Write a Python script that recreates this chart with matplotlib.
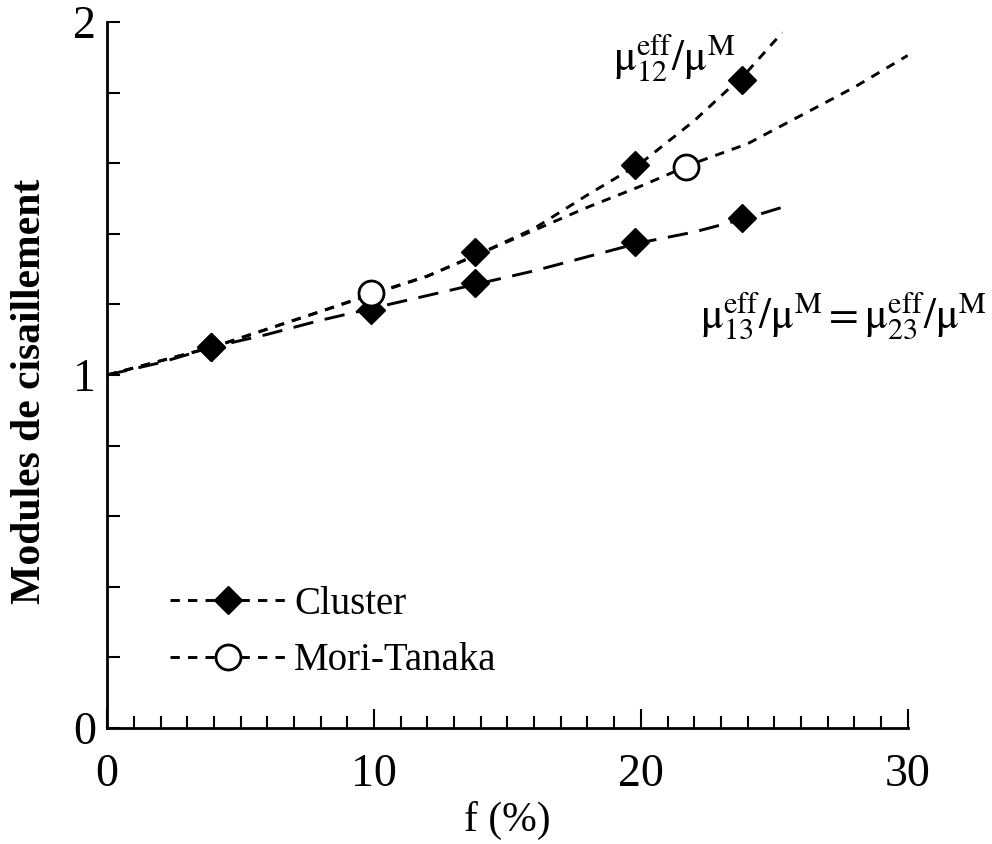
from matplotlib import pyplot as plt
from matplotlib.ticker import MultipleLocator
from matplotlib.lines import Line2D

plt.rcParams['font.family'] = ['Liberation Serif', 'DejaVu Serif']
plt.rcParams['mathtext.fontset'] = 'stix'

# curves
x_c12 = [0, 2, 4, 6, 8, 10, 12, 14, 16, 18, 20, 22, 24, 25.3]
y_c12 = [1.0, 1.04, 1.08, 1.13, 1.18, 1.23, 1.28, 1.345, 1.415, 1.51,
         1.60, 1.72, 1.86, 1.97]

x_mt = [0, 2, 4, 6, 8, 10, 12, 14, 16, 18, 20, 22, 24, 26, 28, 30]
y_mt = [1.0, 1.04, 1.08, 1.13, 1.18, 1.232, 1.28, 1.345, 1.41, 1.475,
        1.535, 1.60, 1.655, 1.735, 1.815, 1.905]

x_c13 = [0, 2, 4, 6, 8, 10, 12, 14, 16, 18, 20, 22, 24, 25.3]
y_c13 = [1.0, 1.035, 1.08, 1.115, 1.155, 1.19, 1.225, 1.26, 1.295, 1.335,
         1.375, 1.405, 1.445, 1.475]

# markers
pts_c12_x = [3.9, 13.8, 19.8, 23.8]
pts_c12_y = [1.08, 1.348, 1.595, 1.836]
pts_c13_x = [3.9, 9.9, 13.8, 19.8, 23.8]
pts_c13_y = [1.08, 1.184, 1.261, 1.377, 1.445]
pts_mt_x = [9.9, 21.7]
pts_mt_y = [1.232, 1.589]

fig = plt.figure(figsize=(9.92, 8.44), dpi=100)
ax = fig.add_axes([0.108, 0.1374, 0.807, 0.8366])

short = (0, (3.2, 2.8))
longd = (0, (7, 4))
lw = 2.1
ax.plot(x_c12, y_c12, color='black', lw=lw, linestyle=short)
ax.plot(x_mt, y_mt, color='black', lw=lw, linestyle=short)
ax.plot(x_c13, y_c13, color='black', lw=lw, linestyle=longd)

ax.plot(pts_c12_x, pts_c12_y, 'D', color='black', ms=14, ls='none')
ax.plot(pts_c13_x, pts_c13_y, 'D', color='black', ms=14, ls='none')
ax.plot(pts_mt_x, pts_mt_y, 'o', mfc='white', mec='black', mew=2,
        ms=18, ls='none')

ax.set_xlim(0, 30)
ax.set_ylim(0, 2)
ax.xaxis.set_major_locator(MultipleLocator(10))
ax.xaxis.set_minor_locator(MultipleLocator(1))
ax.yaxis.set_major_locator(MultipleLocator(1))
ax.yaxis.set_minor_locator(MultipleLocator(0.2))
ax.tick_params(which='both', direction='in', width=1.5, labelsize=33)
ax.tick_params(axis='x', which='major', length=14, pad=18)
ax.tick_params(axis='x', which='minor', length=9)
ax.tick_params(axis='y', which='major', length=9, pad=8)
ax.tick_params(axis='y', which='minor', length=9)
ax.spines['top'].set_visible(False)
ax.spines['right'].set_visible(False)
ax.spines['left'].set_linewidth(2)
ax.spines['bottom'].set_linewidth(2)
ax.patch.set_alpha(0)

ax.set_xlabel('f (%)', fontsize=30, labelpad=4)
ax.set_ylabel('Modules de cisaillement', fontsize=30, fontweight='bold')
ax.yaxis.set_label_coords(-0.072, 0.476)

ax.text(18.95, 1.862,
        r'$\mathrm{μ}_{12}^{\mathrm{eff}}/\mathrm{μ}^{\mathrm{M}}$',
        fontsize=31, va='baseline')
ax.text(22.2, 1.135,
        r'$\mathrm{μ}_{13}^{\mathrm{eff}}/\mathrm{μ}^{\mathrm{M}}'
        r'=\mathrm{μ}_{23}^{\mathrm{eff}}/\mathrm{μ}^{\mathrm{M}}$',
        fontsize=31, va='baseline')

handles = [Line2D([], [], color='black', lw=lw, linestyle=short,
                  marker='D', ms=14),
           Line2D([], [], color='black', lw=lw, linestyle=short,
                  marker='o', mfc='white', mec='black', mew=2, ms=18)]
ax.legend(handles, ['Cluster', 'Mori-Tanaka'], loc='lower left',
          bbox_to_anchor=(0.059, 0.047), frameon=False, fontsize=28,
          handlelength=3.0, handletextpad=0.2, labelspacing=0.5,
          borderaxespad=0)

fig.savefig('out.png', dpi=100)
